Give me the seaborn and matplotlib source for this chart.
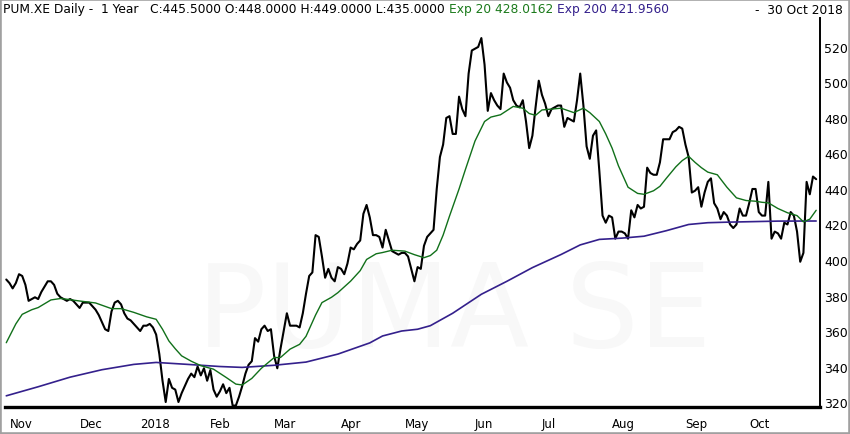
import numpy as np
import pandas as pd
import matplotlib
matplotlib.use('Agg')
import matplotlib.pyplot as plt
import seaborn as sns
from matplotlib.patches import Rectangle

# Xetra trading days shown in the chart
holidays = ['2017-12-25', '2017-12-26', '2018-01-01', '2018-03-30', '2018-04-02', '2018-05-01']
dates = pd.bdate_range('2017-10-31', '2018-10-30', freq='C', holidays=holidays)

# daily close
close = [
    389, 387, 384, 387, 392, 391, 386, 377, 378, 379,   # 0
    378, 382, 385, 388, 388, 386, 381, 379, 378, 377,   # 10
    378, 377, 375, 373, 376, 376, 376, 374, 372, 369,   # 20
    365, 361, 360, 371, 376, 377, 375, 370, 367, 366,   # 30
    364, 362, 360, 363, 363, 364, 362, 358, 347, 332,   # 40
    320, 333, 328, 327, 320, 325, 329, 333, 336, 334,   # 50
    340, 335, 339, 332, 338, 327, 323, 326, 330, 325,   # 60
    328, 318, 318, 323, 329, 336, 341, 343, 356, 354,   # 70
    361, 363, 360, 361, 346, 339, 350, 360, 370, 363,   # 80
    363, 363, 362, 370, 381, 391, 393, 414, 413, 402,   # 90
    390, 395, 390, 388, 396, 395, 392, 398, 407, 406,   # 100
    409, 411, 426, 431, 424, 414, 414, 413, 407, 417,   # 110
    411, 405, 404, 403, 404, 404, 402, 395, 388, 396,   # 120
    395, 408, 413, 415, 417, 440, 458, 465, 480, 481,   # 130
    471, 471, 492, 485, 481, 505, 518, 519, 520, 525,   # 140
    510, 484, 494, 490, 487, 485, 505, 500, 497, 490,   # 150
    487, 486, 490, 478, 463, 470, 486, 501, 493, 488,   # 160
    481, 485, 486, 487, 487, 475, 480, 479, 478, 490,   # 170
    505, 487, 464, 457, 470, 473, 450, 425, 421, 425,   # 180
    424, 412, 416, 416, 415, 412, 428, 424, 431, 429,   # 190
    430, 452, 449, 448, 448, 455, 468, 468, 468, 472,   # 200
    473, 475, 474, 465, 458, 438, 439, 441, 430, 438,   # 210
    444, 446, 432, 429, 423, 427, 425, 420, 418, 420,   # 220
    429, 425, 425, 432, 440, 440, 427, 425, 425, 444,   # 230
    412, 416, 415, 412, 421, 420, 427, 425, 416, 399,   # 240
    404, 444, 437, 447, 445.5,                          # 250
]

# exponential averages, read at sampled trading days
ema20_day = [0, 3, 5, 8, 10, 14, 17, 19, 23, 28, 33, 36, 40, 44, 47, 49, 51, 53, 55, 58,
             61, 65, 69, 72, 74, 77, 80, 84, 86, 89, 92, 94, 97, 99, 102, 104, 108, 111, 113, 116,
             118, 121, 125, 128, 131, 133, 135, 137, 139, 142, 144, 147, 150, 152, 155, 159, 162, 164, 166, 168,
             171, 174, 178, 181, 183, 186, 188, 190, 192, 195, 198, 200, 203, 205, 207, 210, 212, 214, 216, 218,
             220, 223, 226, 229, 232, 235, 237, 239, 242, 245, 248, 250, 252, 254]
ema20_val = [353.4, 364, 369.4, 372, 373.2, 377.5, 378.3, 377.9, 376.9, 375.8, 372.6, 372.6, 370.5, 368, 366.6, 361, 354.4, 350, 346, 343,
             340.5, 338.5, 333.8, 330.1, 329.6, 333.3, 339, 345, 345.1, 349.8, 352.5, 357, 369, 376, 379, 381.6, 388.1, 394, 400.3, 403.5,
             404.2, 405.5, 405, 403, 401.3, 402.5, 405.5, 414, 424.7, 440, 451, 467, 478, 480.5, 481.8, 486.5, 485.5, 482.5, 481.5, 484.5,
             485, 485.5, 483, 485.5, 483, 478, 471, 463, 453, 441, 437.5, 437, 439, 441.5, 446, 452.5, 456, 458.4, 455, 452,
             449.5, 448, 441, 435, 433.5, 433.1, 432.5, 432.2, 429, 426.6, 425, 421.5, 423, 428]

ema200_day = [0, 10, 20, 30, 40, 47, 56, 67, 74, 84, 94, 104, 114, 118, 124, 129, 133, 140, 149, 157,
              165, 174, 180, 186, 193, 200, 207, 214, 220, 226, 234, 242, 254]
ema200_val = [323.5, 328.6, 334, 338.2, 341.2, 342.3, 341.3, 340, 339.5, 340.7, 342.5, 347, 353.3, 357.2, 360, 361, 363, 370, 380.7, 388,
              395.7, 403.1, 408.5, 411.6, 412.3, 413.4, 416.5, 420, 421, 421.3, 421.6, 421.9, 421.96]

month_labels = ['Nov', 'Dec', '2018', 'Feb', 'Mar', 'Apr', 'May', 'Jun', 'Jul', 'Aug', 'Sep', 'Oct']
price_ticks = [320, 340, 360, 380, 400, 420, 440, 460, 480, 500, 520]

header_parts = [
    ('PUM.XE Daily -  1 Year   C:445.5000 O:448.0000 H:449.0000 L:435.0000', 'black'),
    ('Exp 20 428.0162', '#1b7a1b'),
    ('Exp 200 421.9560', '#34208c'),
]
header_date = '-  30 Oct 2018'

n = min(len(close), len(dates))
days = np.arange(n)
price_df = pd.DataFrame({'day': days, 'close': close[:n]})
ema20_df = pd.DataFrame({'day': ema20_day, 'ema': ema20_val})
ema200_df = pd.DataFrame({'day': ema200_day, 'ema': ema200_val})

month_pos = [i for i in range(1, n) if dates[i].month != dates[i - 1].month]

sns.set_style('white')
plt.rcParams['font.family'] = ['DejaVu Sans']

W, H = 850, 435
fig = plt.figure(figsize=(W / 100, H / 100), dpi=100)
ax = fig.add_axes([5 / W, 1 - 408 / H, 815 / W, 389 / H])

# faint watermark
ax.text(0.236, 0.157, 'PUMA SE', transform=ax.transAxes, fontsize=83,
        color='#f8f8f8', ha='left', va='baseline', zorder=0)

sns.lineplot(data=price_df, x='day', y='close', color='black', lw=1.5, ax=ax, zorder=3)
sns.lineplot(data=ema200_df, x='day', y='ema', color='#34208c', lw=1.2, ax=ax, zorder=4)
sns.lineplot(data=ema20_df, x='day', y='ema', color='#11701a', lw=1.0, ax=ax, zorder=4)

ax.set_xlim(-0.4, 255.2)
ax.set_ylim(317.2, 536.3)
ax.set_xlabel('')
ax.set_ylabel('')

ax.set_xticks(month_pos[:len(month_labels)])
ax.set_xticklabels(month_labels[:len(month_pos)], ha='left')
ax.yaxis.tick_right()
ax.set_yticks(price_ticks)
ax.tick_params(axis='x', length=5, width=1.6, direction='out', labelsize=8.5, pad=2, colors='black')
ax.tick_params(axis='y', length=0, pad=3, labelsize=9, colors='black')

for side in ['top', 'left']:
    ax.spines[side].set_visible(False)
ax.spines['bottom'].set_linewidth(2.4)
ax.spines['right'].set_linewidth(1.4)
ax.spines['bottom'].set_color('black')
ax.spines['right'].set_color('black')

# header line, pieces placed one after another
renderer = fig.canvas.get_renderer()
x = 3
for txt, col in header_parts:
    t = fig.text(x / W, 1 - 10 / H, txt, color=col, fontsize=8.85, ha='left', va='center')
    bb = t.get_window_extent(renderer)
    x = bb.x1 + 4
fig.text(843 / W, 1 - 10 / H, header_date, color='black', fontsize=8.85, ha='right', va='center')

# grey frame round the picture
fig.patches.append(Rectangle((0, 0), 1, 1, transform=fig.transFigure, fill=False,
                             ec='#a0a0a0', lw=2.6))

fig.savefig('out.png', dpi=100)
